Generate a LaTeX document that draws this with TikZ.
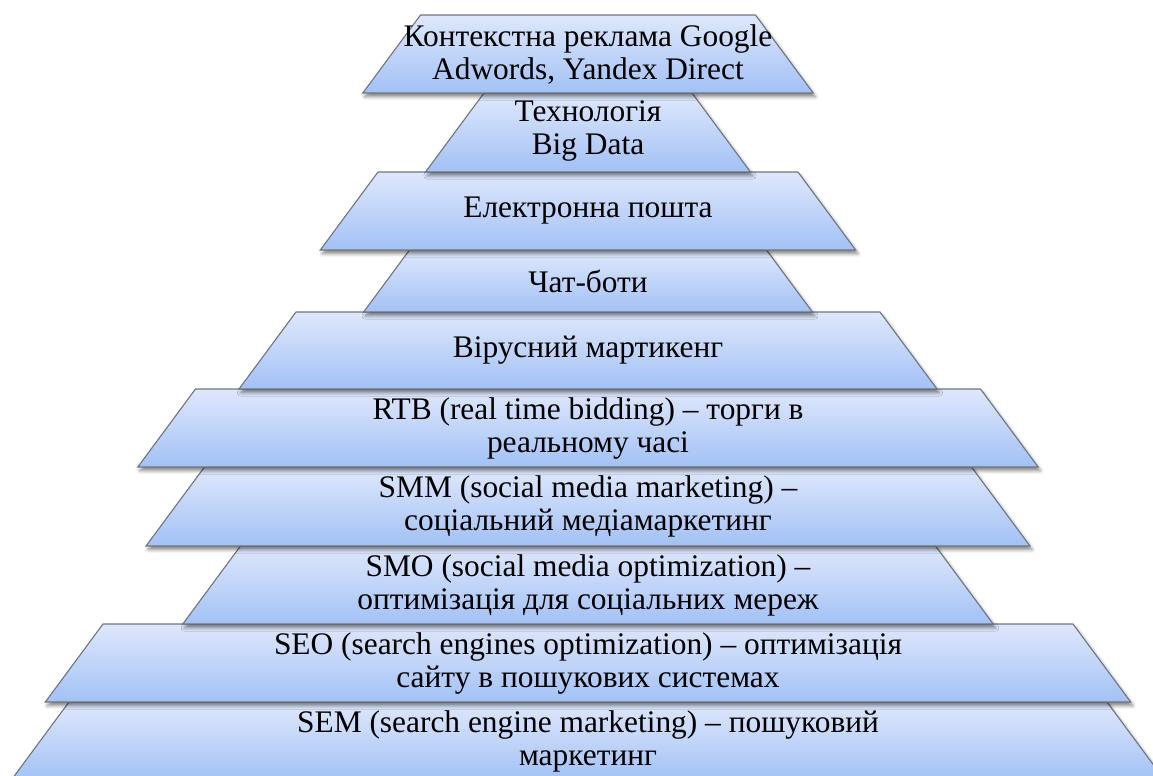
\documentclass[tikz,border=0pt]{standalone}
\usepackage{fontspec}
\setmainfont{Liberation Serif}
\usetikzlibrary{shadows.blur}

\definecolor{tierTop}{RGB}{223,232,252}
\definecolor{tierBottom}{RGB}{162,193,245}
\definecolor{tierLine}{RGB}{112,116,124}

\begin{document}
\begin{tikzpicture}[x=0.5pt, y=-0.5pt]
% Styles
\tikzstyle{tier} = [draw=tierLine, line width=0.55pt, top color=tierTop, bottom color=tierBottom, line join=miter,
  blur shadow={shadow xshift=1pt, shadow yshift=-1.8pt, shadow blur radius=1.8pt, shadow opacity=50}]
\tikzstyle{label} = [align=center, inner sep=0pt, font=\fontsize{15.7}{16.5}\selectfont]

\useasboundingbox (0,0) rectangle (1153,776);

% Tiers, widest first so the narrower ones lie on top
\path [tier] (69,702) -- (1107,702) -- (1164.7,780) -- (11.3,780) -- cycle;
\path [tier] (103,624) -- (1073,624) -- (1130.7,702) -- (45.3,702) -- cycle;
\path [tier] (240.5,546) -- (935.5,546) -- (993.2,624) -- (182.8,624) -- cycle;
\path [tier] (204.5,467) -- (971.5,467) -- (1030,546) -- (146,546) -- cycle;
\path [tier] (195.5,389) -- (980.5,389) -- (1038.2,467) -- (137.8,467) -- cycle;
\path [tier] (296,312) -- (880,312) -- (937,389) -- (239,389) -- cycle;
\path [tier] (409.5,250) -- (766.5,250) -- (812.4,312) -- (363.6,312) -- cycle;
\path [tier] (378,172) -- (798,172) -- (855.7,250) -- (320.3,250) -- cycle;
\path [tier] (484,93) -- (692,93) -- (750.5,172) -- (425.5,172) -- cycle;
\path [tier] (420.5,15) -- (755.5,15) -- (813.2,93) -- (362.8,93) -- cycle;

% Labels
\node (ads) [label] at (588,55) {Контекстна реклама Google\\Adwords, Yandex Direct};
\node (bigdata) [label] at (588,131) {Технологія\\Big Data};
\node (mail) [label] at (588,211) {Електронна пошта};
\node (bots) [label] at (588,281) {Чат-боти};
\node (viral) [label] at (588,350) {Вірусний мартикенг};
\node (rtb) [label] at (588,428) {RTB (real time bidding) – торги в\\реальному часі};
\node (smm) [label] at (588,506) {SMM (social media marketing) –\\соціальний медіамаркетинг};
\node (smo) [label] at (588,585) {SMO (social media optimization) –\\оптимізація для соціальних мереж};
\node (seo) [label] at (588,663) {SEO (search engines optimization) – оптимізація\\сайту в пошукових системах};
\node (sem) [label] at (588,741) {SEM (search engine marketing) – пошуковий\\маркетинг};

\end{tikzpicture}
\end{document}
